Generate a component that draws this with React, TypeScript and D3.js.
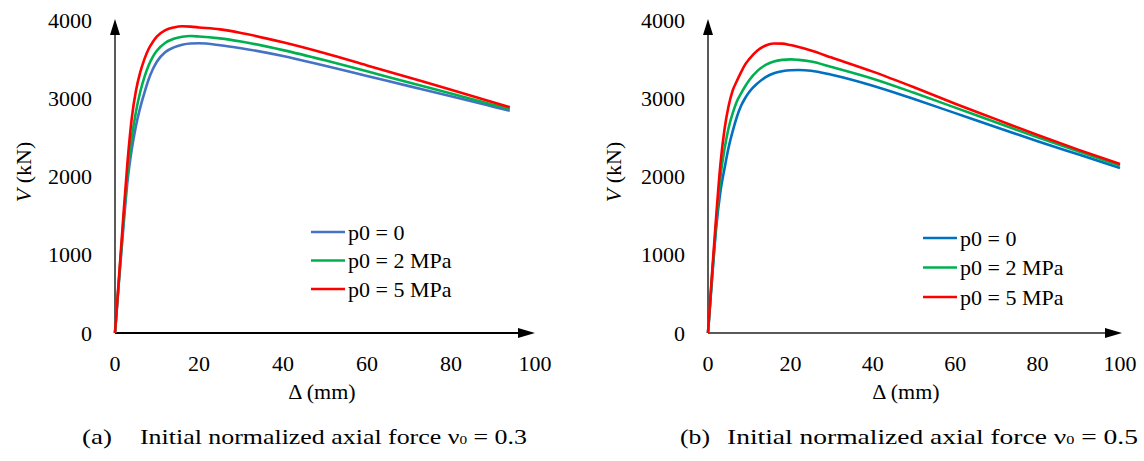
import React from 'react';
import * as d3 from 'd3';

// Panel (a): v0 = 0.3 — Δ (mm) sample points
const deltaA = [0, 1, 2, 3, 4, 5, 6, 7, 8, 9, 10, 12, 14, 16, 18, 20, 25, 30, 40, 50, 60, 70, 80, 90, 94];
const a_p0_0 = [0, 700, 1350, 1950, 2350, 2650, 2880, 3070, 3240, 3370, 3470, 3590, 3650, 3685, 3700, 3702, 3678, 3640, 3540, 3415, 3285, 3155, 3025, 2893, 2840];
const a_p0_2 = [0, 720, 1420, 2050, 2500, 2830, 3080, 3270, 3420, 3530, 3610, 3710, 3760, 3785, 3795, 3790, 3765, 3725, 3615, 3485, 3345, 3200, 3060, 2918, 2865];
const a_p0_5 = [0, 750, 1500, 2200, 2750, 3100, 3330, 3500, 3630, 3720, 3790, 3870, 3905, 3920, 3915, 3905, 3880, 3835, 3715, 3575, 3420, 3265, 3110, 2950, 2885];

// Panel (b): v0 = 0.5 — Δ (mm) sample points
const deltaB = [0, 1, 2, 3, 4, 5, 6, 7, 8, 9, 10, 12, 14, 16, 18, 20, 22, 25, 30, 40, 50, 60, 70, 80, 90, 100];
const b_p0_0 = [0, 700, 1350, 1800, 2100, 2370, 2580, 2760, 2900, 3000, 3080, 3190, 3270, 3320, 3345, 3358, 3361, 3352, 3300, 3160, 2990, 2810, 2630, 2450, 2280, 2110];
const b_p0_2 = [0, 740, 1420, 1980, 2350, 2620, 2810, 2960, 3060, 3150, 3230, 3350, 3425, 3470, 3490, 3497, 3490, 3470, 3400, 3250, 3070, 2880, 2690, 2500, 2320, 2140];
const b_p0_5 = [0, 780, 1500, 2150, 2600, 2900, 3100, 3220, 3330, 3430, 3500, 3610, 3675, 3700, 3698, 3680, 3655, 3610, 3520, 3340, 3140, 2930, 2730, 2530, 2340, 2160];

const seriesNames = ['p0 = 0', 'p0 = 2 MPa', 'p0 = 5 MPa'];
const xTicks = [0, 20, 40, 60, 80, 100];
const yTicks = [0, 1000, 2000, 3000, 4000];

const FONT = "'Liberation Serif', 'Times New Roman', serif";

type PanelProps = {
  x0: number; x100: number; arrowX: number; xAxisColor: string;
  delta: number[]; series: number[][]; colors: string[];
  legendX: number; legendY: number; legendGap: number;
  yTitleX: number; xTitleX: number;
  captionLabel: string; captionLabelX: number; captionX: number; captionV: string; captionEnd: number;
};

function Panel(p: PanelProps) {
  const x = d3.scaleLinear().domain([0, 100]).range([p.x0, p.x100]);
  const y = d3.scaleLinear().domain([0, 4000]).range([333, 20]);
  const line = d3.line<[number, number]>()
    .x(d => x(d[0]))
    .y(d => y(d[1]))
    .curve(d3.curveMonotoneX);
  const yTop = y(4000) - 1;
  return (
    <g>
      {/* axes */}
      <line x1={x(0)} y1={y(0)} x2={x(0)} y2={yTop + 14} stroke="#595959" strokeWidth={2} />
      <path d={`M${x(0)},${yTop} L${x(0) - 5},${yTop + 16} L${x(0) + 5},${yTop + 16} Z`} fill="#000" />
      <line x1={x(0)} y1={y(0)} x2={p.arrowX - 14} y2={y(0)} stroke={p.xAxisColor} strokeWidth={2} />
      <path d={`M${p.arrowX},${y(0)} L${p.arrowX - 17},${y(0) - 5} L${p.arrowX - 17},${y(0) + 5} Z`} fill="#000" />
      {/* tick labels */}
      {yTicks.map(t => (
        <text key={'y' + t} x={x(0) - 23} y={y(t)} textAnchor="end" dominantBaseline="central"
          fontFamily={FONT} fontSize={22} fill="#000">{t}</text>
      ))}
      {xTicks.map(t => (
        <text key={'x' + t} x={x(t)} y={363} textAnchor="middle" dominantBaseline="central"
          fontFamily={FONT} fontSize={22} fill="#000">{t}</text>
      ))}
      {/* axis titles */}
      <text x={p.xTitleX} y={391} textAnchor="middle" dominantBaseline="central"
        fontFamily={FONT} fontSize={22} fill="#000">Δ (mm)</text>
      <text transform={`translate(${p.yTitleX},172) rotate(-90)`} textAnchor="middle" dominantBaseline="central"
        fontFamily={FONT} fontSize={22} fill="#000"><tspan fontStyle="italic">V</tspan> (kN)</text>
      {/* series */}
      {p.series.map((s, i) => (
        <path key={'s' + i} d={line(p.delta.map((d, j) => [d, s[j]] as [number, number])) || ''}
          fill="none" stroke={p.colors[i]} strokeWidth={2.6} strokeLinejoin="round" />
      ))}
      {/* legend */}
      {seriesNames.map((n, i) => (
        <g key={'l' + i}>
          <line x1={p.legendX} x2={p.legendX + 34} y1={p.legendY + i * p.legendGap} y2={p.legendY + i * p.legendGap}
            stroke={p.colors[i]} strokeWidth={2.6} />
          <text x={p.legendX + 37} y={p.legendY + i * p.legendGap} dominantBaseline="central"
            fontFamily={FONT} fontSize={22} fill="#000">{n}</text>
        </g>
      ))}
      {/* caption */}
      <text x={p.captionLabelX} y={444} fontFamily={FONT} fontSize={22}
        textLength={30} lengthAdjust="spacingAndGlyphs" fill="#000">{p.captionLabel}</text>
      <text x={p.captionX} y={444} fontFamily={FONT} fontSize={22}
        textLength={p.captionEnd - p.captionX} lengthAdjust="spacingAndGlyphs" fill="#000">
        Initial normalized axial force ν<tspan fontSize={13}>0</tspan> = {p.captionV}
      </text>
    </g>
  );
}

export default function App() {
  return (
    <div style={{ position: 'absolute', left: 0, top: 0 }}>
      <svg width={1144} height={461} style={{ display: 'block', background: '#fff' }}>
        <Panel x0={115} x100={535} arrowX={535} xAxisColor="#000"
          delta={deltaA} series={[a_p0_0, a_p0_2, a_p0_5]} colors={['#4472C4', '#00B050', '#FF0000']}
          legendX={311} legendY={232} legendGap={28.5}
          yTitleX={23} xTitleX={322}
          captionLabel="(a)" captionLabelX={82} captionX={140} captionV="0.3" captionEnd={527} />
        <Panel x0={708} x100={1120} arrowX={1122} xAxisColor="#595959"
          delta={deltaB} series={[b_p0_0, b_p0_2, b_p0_5]} colors={['#0070C0', '#00B050', '#FF0000']}
          legendX={923} legendY={238} legendGap={29.5}
          yTitleX={613} xTitleX={906}
          captionLabel="(b)" captionLabelX={680} captionX={727} captionV="0.5" captionEnd={1138} />
      </svg>
    </div>
  );
}
